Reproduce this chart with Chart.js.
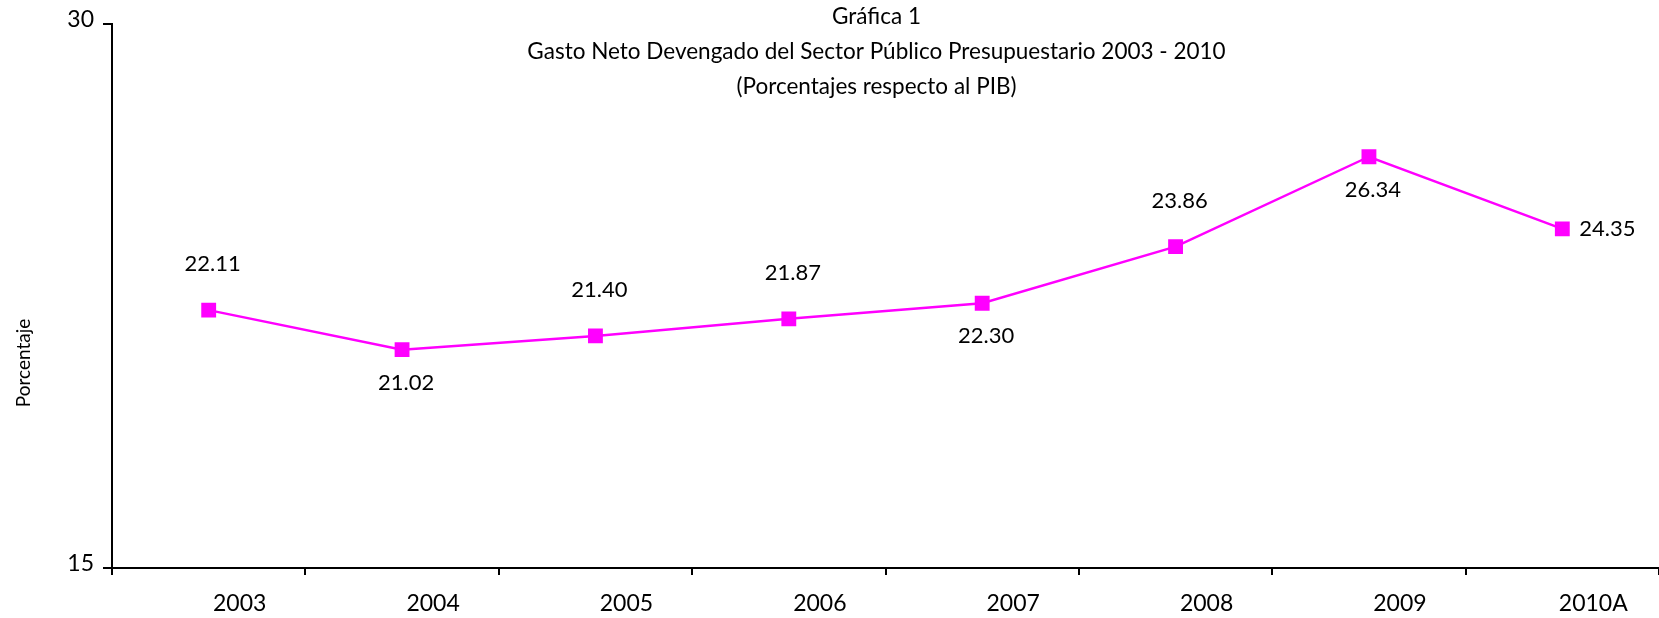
<!DOCTYPE html>
<html lang="es">
<head>
    <meta charset="UTF-8">
    <title>Gasto Neto Devengado del Sector Público Presupuestario 2003 - 2010</title>
    <script src="https://cdn.jsdelivr.net/npm/chart.js"></script>
    <style>
        * { margin: 0; padding: 0; box-sizing: border-box; }
        body { background: #ffffff; }
        .chart-container { width: 1659px; height: 618px; position: relative; }
    </style>
</head>
<body>

    <div class="chart-container">
        <canvas id="gasto-chart"></canvas>
    </div>

    <script>
        // datos de la gráfica
        const years = ["2003", "2004", "2005", "2006", "2007", "2008", "2009", "2010A"];
        const gastoPib = [22.11, 21.02, 21.40, 21.87, 22.30, 23.86, 26.34, 24.35];
        const yTicks = [15, 30];
        // donde va cada etiqueta de dato respecto al punto
        const labelSide = ["above", "below", "above", "above", "below", "above", "below", "right"];

        const titleLines = [
            "Gráfica 1",
            "Gasto Neto Devengado del Sector Público Presupuestario 2003 - 2010",
            "(Porcentajes respecto al PIB)"
        ];
        const yTitle = "Porcentaje";

        const FONT = "Lato, 'Liberation Sans', sans-serif";
        const MAGENTA = "#ff00ff";

        // título, etiqueta del eje y y etiquetas de datos
        const extrasPlugin = {
            id: 'extras',
            afterDatasetsDraw(chart) {
                const ctx = chart.ctx;
                const area = chart.chartArea;
                ctx.save();
                ctx.fillStyle = '#000';

                // título encima del área de trazado
                ctx.font = '22.5px ' + FONT;
                ctx.textAlign = 'center';
                ctx.textBaseline = 'middle';
                const cx = (area.left + area.right) / 2;
                titleLines.forEach((line, i) => {
                    ctx.fillText(line, cx - 9, 17 + i * 35);
                });

                // etiqueta vertical del eje y
                ctx.save();
                ctx.translate(24, 363);
                ctx.rotate(-Math.PI / 2);
                ctx.font = '19px ' + FONT;
                ctx.fillText(yTitle, 0, 0);
                ctx.restore();

                // etiquetas de valores
                ctx.font = '22px ' + FONT;
                const meta = chart.getDatasetMeta(0);
                meta.data.forEach((pt, i) => {
                    const txt = gastoPib[i].toFixed(2);
                    const side = labelSide[i];
                    if (side === 'right') {
                        ctx.textAlign = 'left';
                        ctx.fillText(txt, pt.x + 17, pt.y);
                    } else if (side === 'below') {
                        ctx.textAlign = 'center';
                        ctx.fillText(txt, pt.x + 4, pt.y + 33);
                    } else {
                        ctx.textAlign = 'center';
                        ctx.fillText(txt, pt.x + 4, pt.y - 46);
                    }
                });
                ctx.restore();
            }
        };

        const chartConfig = {
            type: 'line',
            data: {
                labels: years,
                datasets: [{
                    data: gastoPib,
                    borderColor: MAGENTA,
                    backgroundColor: MAGENTA,
                    borderWidth: 2.5,
                    pointStyle: 'rect',
                    pointRadius: 10.5,
                    pointHoverRadius: 10.5,
                    pointBorderWidth: 0,
                    tension: 0
                }]
            },
            options: {
                responsive: true,
                maintainAspectRatio: false,
                animation: false,
                layout: {
                    autoPadding: false,
                    padding: { top: 24, right: -3, left: 0, bottom: 0 }
                },
                plugins: {
                    legend: { display: false },
                    tooltip: { enabled: false }
                },
                scales: {
                    x: {
                        type: 'category',
                        offset: true,
                        grid: {
                            offset: true,
                            drawOnChartArea: false,
                            drawTicks: true,
                            tickLength: 7,
                            color: '#000',
                            lineWidth: 2
                        },
                        border: { display: true, color: '#000', width: 2 },
                        ticks: {
                            color: '#000',
                            font: { family: FONT, size: 23 },
                            labelOffset: 31,
                            padding: 15,
                            maxRotation: 0,
                            autoSkip: false
                        },
                        afterFit(scale) {
                            scale.height = 50;
                            scale.paddingLeft = 0;
                            scale.paddingRight = 0;
                        }
                    },
                    y: {
                        min: 15,
                        max: 30,
                        afterBuildTicks(scale) {
                            scale.ticks = yTicks.map(v => ({ value: v }));
                        },
                        grid: {
                            drawOnChartArea: false,
                            drawTicks: true,
                            tickLength: 9,
                            color: '#000',
                            lineWidth: 2
                        },
                        border: { display: true, color: '#000', width: 2 },
                        ticks: {
                            color: '#000',
                            font: { family: FONT, size: 23 },
                            padding: 9,
                            labelOffset: -4
                        },
                        afterFit(scale) { scale.width = 112; }
                    }
                }
            },
            plugins: [extrasPlugin]
        };

        const ctx = document.getElementById('gasto-chart').getContext('2d');
        new Chart(ctx, chartConfig);
    </script>

</body>
</html>
